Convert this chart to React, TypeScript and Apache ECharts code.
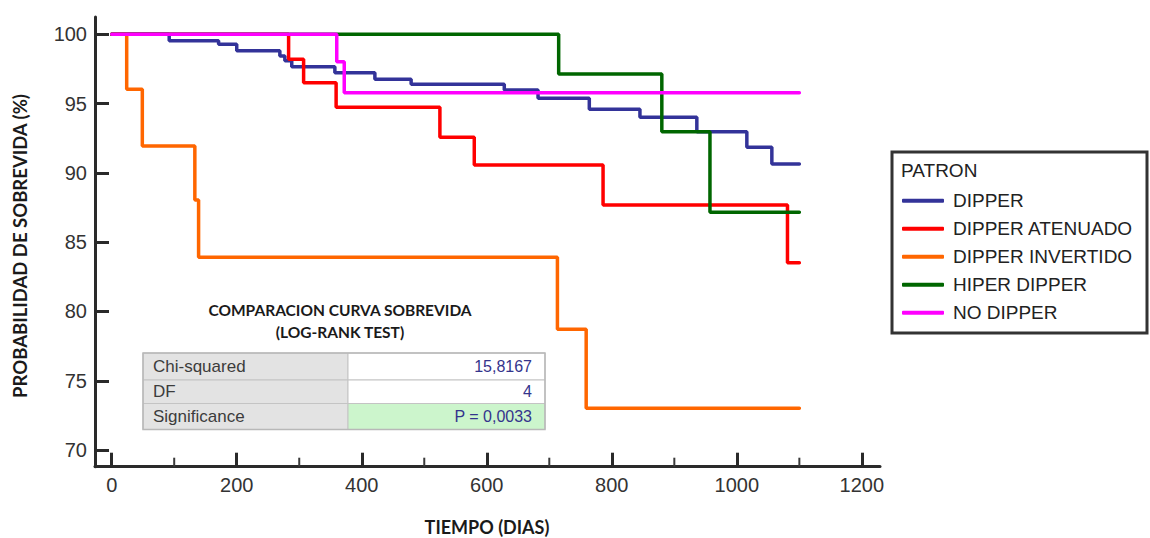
import React, { useEffect, useRef } from "react";
import * as echarts from "echarts";

// ---- data ----
const seriesNames = ["DIPPER", "DIPPER ATENUADO", "DIPPER INVERTIDO", "HIPER DIPPER", "NO DIPPER"];
const seriesColors = ["#333399", "#ff0000", "#ff6600", "#006600", "#ff00ff"];

const dipperDays = [0, 92, 171, 200, 269, 277, 288, 357, 421, 479, 628, 682, 764, 845, 936, 1016, 1056, 1100];
const dipperSurv = [100, 99.54, 99.28, 98.82, 98.43, 98.1, 97.66, 97.23, 96.75, 96.39, 95.98, 95.38, 94.59, 94.01, 92.97, 91.85, 90.64, 90.64];

const atenuadoDays = [0, 283, 307, 359, 525, 580, 786, 1081, 1100];
const atenuadoSurv = [100, 98.2, 96.51, 94.73, 92.57, 90.57, 87.68, 83.52, 83.52];

const invertidoDays = [0, 24, 49, 133, 139, 713, 759, 1100];
const invertidoSurv = [100, 96.03, 91.94, 88.04, 83.91, 78.72, 73.02, 73.02];

const hiperDays = [0, 715, 880, 957, 1100];
const hiperSurv = [100, 97.14, 92.97, 87.16, 87.16];

const noDipperDays = [0, 360, 372, 1100];
const noDipperSurv = [100, 98.02, 95.79, 95.79];

const xTickLabels = [0, 200, 400, 600, 800, 1000, 1200];
const xMinorTicks = [100, 300, 500, 700, 900, 1100];
const yTickLabels = [70, 75, 80, 85, 90, 95, 100];

const tableLabels = ["Chi-squared", "DF", "Significance"];
const tableValues = ["15,8167", "4", "P = 0,0033"];

const allDays = [dipperDays, atenuadoDays, invertidoDays, hiperDays, noDipperDays];
const allSurv = [dipperSurv, atenuadoSurv, invertidoSurv, hiperSurv, noDipperSurv];

const X_MIN = -26.7;
const X_MAX = 1229;
const Y_MIN = 68.8;
const Y_MAX = 101.25;

export default function App() {
  const ref = useRef<HTMLDivElement>(null);

  useEffect(() => {
    if (!ref.current) return;
    const chart = echarts.init(ref.current, null, { renderer: "svg" });

    const axisFont = "'Liberation Sans', Arial, sans-serif";
    const titleFont = "Lato, 'Open Sans', sans-serif";

    const series: any[] = seriesNames.map((name, i) => ({
      name,
      type: "line",
      step: "end",
      symbol: "none",
      data: allDays[i].map((d, k) => [d, allSurv[i][k]]),
      lineStyle: { color: seriesColors[i], width: 3.5, cap: "round" },
      itemStyle: { color: seriesColors[i] },
      z: 3 + i,
    }));

    // table graphic
    const tX = 143, tY = 353, colW1 = 205, colW2 = 197, rowH = [27, 23.5, 26];
    const tableEls: any[] = [];
    let yy = tY;
    for (let r = 0; r < 3; r++) {
      tableEls.push({
        type: "rect",
        shape: { x: tX, y: yy, width: colW1, height: rowH[r] },
        style: { fill: "#e3e3e3", stroke: "#c4c4c4", lineWidth: 1 },
      });
      tableEls.push({
        type: "rect",
        shape: { x: tX + colW1, y: yy, width: colW2, height: rowH[r] },
        style: { fill: r === 2 ? "#ccf5cc" : "#ffffff", stroke: "#c4c4c4", lineWidth: 1 },
      });
      tableEls.push({
        type: "text",
        x: tX + 10,
        y: yy + rowH[r] / 2,
        style: {
          text: tableLabels[r],
          fontSize: 17,
          fontFamily: axisFont,
          fill: "#3c3c3c",
          align: "left",
          verticalAlign: "middle",
          textAlign: "left",
          textVerticalAlign: "middle",
        },
      });
      tableEls.push({
        type: "text",
        x: tX + colW1 + colW2 - 13,
        y: yy + rowH[r] / 2,
        style: {
          text: tableValues[r],
          fontSize: 16,
          fontFamily: axisFont,
          fill: "#34348c",
          align: "right",
          verticalAlign: "middle",
          textAlign: "right",
          textVerticalAlign: "middle",
        },
      });
      yy += rowH[r];
    }
    tableEls.push({
      type: "rect",
      shape: { x: tX, y: tY, width: colW1 + colW2, height: rowH[0] + rowH[1] + rowH[2] },
      style: { fill: "none", stroke: "#b8b8b8", lineWidth: 1.5 },
    });

    const txt = (text: string, x: number, y: number, size: number, extra: any = {}) => ({
      type: "text",
      x,
      y,
      ...extra,
      style: {
        text,
        fontSize: size,
        fontFamily: titleFont,
        fontWeight: "bold",
        fill: "#1a1a1a",
        align: "center",
        verticalAlign: "middle",
        textAlign: "center",
        textVerticalAlign: "middle",
      },
    });

    const baseGraphics: any[] = [
      {
        type: "rect",
        shape: { x: 892, y: 152, width: 255, height: 181 },
        style: { fill: "none", stroke: "#333333", lineWidth: 3 },
        z: 1,
      },
      {
        type: "text",
        x: 901,
        y: 170,
        style: {
          text: "PATRON",
          fontSize: 19,
          fontFamily: axisFont,
          fill: "#222222",
          align: "left",
          verticalAlign: "middle",
          textAlign: "left",
          textVerticalAlign: "middle",
        },
      },
      txt("COMPARACION CURVA SOBREVIDA", 340, 310, 15.5),
      txt("(LOG-RANK TEST)", 340, 332, 15.5),
      txt("TIEMPO (DIAS)", 487, 527, 18),
      txt("PROBABILIDAD DE SOBREVIDA (%)", 20, 246, 18.5, { rotation: Math.PI / 2 }),
      ...tableEls,
    ];

    const option: any = {
      animation: false,
      backgroundColor: "#ffffff",
      grid: { left: 95, top: 17, width: 785, height: 449.7, containLabel: false },
      xAxis: {
        type: "value",
        min: X_MIN,
        max: X_MAX,
        axisLine: { show: true, onZero: false, lineStyle: { color: "#2a2a2a", width: 3 } },
        axisTick: {
          show: true,
          inside: true,
          length: 14,
          customValues: xTickLabels,
          lineStyle: { color: "#2a2a2a", width: 3 },
        },
        axisLabel: {
          show: true,
          customValues: xTickLabels,
          formatter: (v: number) => String(v),
          margin: 8,
          fontSize: 20,
          fontFamily: axisFont,
          color: "#333333",
        },
        splitLine: { show: false },
      },
      yAxis: {
        type: "value",
        min: Y_MIN,
        max: Y_MAX,
        axisLine: { show: true, onZero: false, lineStyle: { color: "#2a2a2a", width: 3 } },
        axisTick: {
          show: true,
          inside: true,
          length: 14,
          customValues: yTickLabels,
          lineStyle: { color: "#2a2a2a", width: 3 },
        },
        axisLabel: {
          show: true,
          customValues: yTickLabels,
          formatter: (v: number) => String(v),
          margin: 8,
          fontSize: 20,
          fontFamily: axisFont,
          color: "#333333",
        },
        splitLine: { show: false },
      },
      legend: {
        orient: "vertical",
        left: 902,
        top: 190.7,
        padding: 0,
        itemWidth: 42,
        itemHeight: 4,
        itemGap: 8,
        icon: "roundRect",
        data: seriesNames,
        selectedMode: false,
        textStyle: {
          fontSize: 19,
          lineHeight: 20,
          fontFamily: axisFont,
          color: "#222222",
          padding: [0, 0, 0, 4],
        },
      },
      graphic: baseGraphics,
      series,
    };

    chart.setOption(option);

    // minor x ticks: positions obtained from the axis scale
    const minorEls = xMinorTicks.map((v) => {
      const p = chart.convertToPixel({ gridIndex: 0 }, [v, Y_MIN]) as number[];
      return {
        type: "rect",
        shape: { x: p[0] - 1, y: p[1] - 9, width: 2, height: 9 },
        style: { fill: "#3a3a3a" },
        z: 20,
      };
    });
    chart.setOption({ graphic: [...baseGraphics, ...minorEls] }, { replaceMerge: ["graphic"] });

    return () => chart.dispose();
  }, []);

  return (
    <div
      ref={ref}
      style={{ position: "absolute", left: 0, top: 0, width: 1150, height: 538, background: "#fff" }}
    />
  );
}
